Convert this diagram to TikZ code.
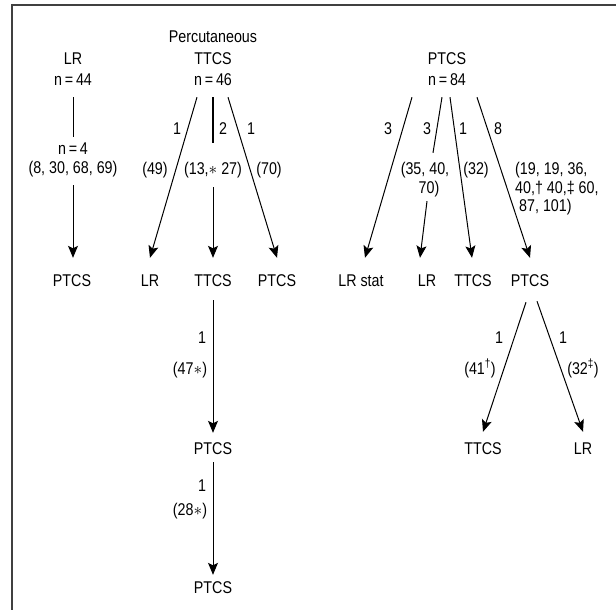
\documentclass[tikz,border=0pt]{standalone}
\usepackage{fontspec}
\setmainfont[FakeStretch=0.84]{Liberation Sans}
\usetikzlibrary{arrows.meta}
\begin{document}
\begin{tikzpicture}[x=1pt,y=-1pt,
  txt/.style={inner sep=0pt,text height=12pt,text depth=0pt,font=\fontsize{17}{19}\selectfont},
  arr/.style={line width=1pt,-{Stealth[length=12pt,width=10pt,inset=2.5pt]}},
  ln/.style={line width=1pt},
  frame/.style={line width=2pt,black!75}]
\useasboundingbox (0,0) rectangle (616,610);
% frame
\coordinate (fa) at (11,5);
\coordinate (fb) at (616,5);
\coordinate (fc) at (12,610);
\draw[frame] (fb) -- (fa);
\draw[frame] ([yshift=1pt]fa) ++(1,0) -- (fc);

% headers
\node[txt] (lrh) at (73,59) {LR};
\node[txt] (n44) at (73,79) {n\,=\,44};
\node[txt] (perc) at (213,37) {Percutaneous};
\node[txt] (tth) at (213,59) {TTCS};
\node[txt] (n46) at (213,79) {n\,=\,46};
\node[txt] (pth) at (447,59) {PTCS};
\node[txt] (n84) at (447,79) {n\,=\,84};

% left column
\node[txt] (n4) at (73,148) {n\,=\,4};
\node[txt] (refA) at (73,167) {(8, 30, 68, 69)};
\node[txt] (ptA) at (72,280) {PTCS};
\draw[ln] ([yshift=-12pt]n44.south) -- ([yshift=5pt]n4.north);
\draw[arr] ([yshift=-12pt]refA.south) -- ([xshift=1pt,yshift=16pt]ptA.north);

% TTCS group
\node[txt] (lrB) at (150,280) {LR};
\node[txt] (ttB) at (213,280) {TTCS};
\node[txt] (ptB) at (277,280) {PTCS};
\node[txt] (cB1) at (177,128) {1};
\node[txt] (rB1) at (155,168) {(49)};
\node[txt] (cB2) at (223,128) {2};
\node[txt] (rB2) at (213,168) {(13,$\ast$ 27)};
\node[txt] (cB3) at (251,128) {1};
\node[txt] (rB3) at (269,168) {(70)};
\draw[arr] ([xshift=-16pt,yshift=-12pt]n46.south) -- ([yshift=16pt]lrB.north);
\draw[line width=1.2pt] ([yshift=-12pt]n46.south) -- ([yshift=19pt]rB2.north);
\draw[arr] ([yshift=-13pt]rB2.south) -- ([yshift=16pt]ttB.north);
\draw[arr] ([xshift=15pt,yshift=-12pt]n46.south) -- ([yshift=16pt]ptB.north);

% TTCS -> PTCS -> PTCS
\node[txt] (cD1) at (202,337) {1};
\node[txt] (rD1) at (190,368) {(47$\ast$)};
\node[txt] (ptD) at (213,448) {PTCS};
\node[txt] (cD2) at (202,485) {1};
\node[txt] (rD2) at (190,509) {(28$\ast$)};
\node[txt] (ptE) at (213,587) {PTCS};
\draw[arr] ([yshift=-14pt]ttB.south) -- ([yshift=9pt]ptD.north);
\draw[arr] ([yshift=-8pt]ptD.south) -- ([yshift=6pt]ptE.north);

% PTCS group
\node[txt] (lrstat) at (361,280) {LR stat};
\node[txt] (lrC) at (427,280) {LR};
\node[txt] (ttC) at (473,280) {TTCS};
\node[txt] (ptC) at (530,280) {PTCS};
\node[txt] (cC1) at (388,128) {3};
\node[txt] (cC2) at (427,128) {3};
\node[txt] (cC3) at (463,128) {1};
\node[txt] (cC4) at (498,128) {8};
\node[txt] (rC2a) at (425,168) {(35, 40,};
\node[txt] (rC2b) at (429,187) {70)};
\node[txt] (rC3) at (476,168) {(32)};
\node[txt,anchor=west] (rC4a) at (515,168) {(19, 19, 36,};
\node[txt,anchor=west] (rC4b) at (515,187) {40,† 40,‡ 60,};
\node[txt,anchor=west] (rC4c) at (519,205) {87, 101)};
\draw[arr] ([xshift=-35pt,yshift=-12pt]n84.south) -- ([xshift=4pt,yshift=16pt]lrstat.north);
\draw[ln] ([xshift=-5pt,yshift=-12pt]n84.south) -- ([xshift=8pt,yshift=9pt]rC2a.north);
\draw[arr] ([xshift=-2pt,yshift=-8pt]rC2b.south) -- ([xshift=-7pt,yshift=16pt]lrC.north);
\draw[arr] ([xshift=3pt,yshift=-12pt]n84.south) -- ([xshift=-1pt,yshift=16pt]ttC.north);
\draw[arr] ([xshift=30pt,yshift=-12pt]n84.south) -- ([yshift=16pt]ptC.north);

% PTCS -> TTCS, LR
\node[txt] (cF1) at (499,337) {1};
\node[txt] (rF1) at (480,368) {(41\textsuperscript{†})};
\node[txt] (cF2) at (563,337) {1};
\node[txt] (rF2) at (583,368) {(32\textsuperscript{‡})};
\node[txt] (ttF) at (483,448) {TTCS};
\node[txt] (lrF) at (583,448) {LR};
\draw[arr] ([xshift=-4pt,yshift=-16pt]ptC.south) -- ([yshift=10pt]ttF.north);
\draw[arr] ([xshift=7pt,yshift=-15pt]ptC.south) -- ([yshift=10pt]lrF.north);
\end{tikzpicture}
\end{document}
